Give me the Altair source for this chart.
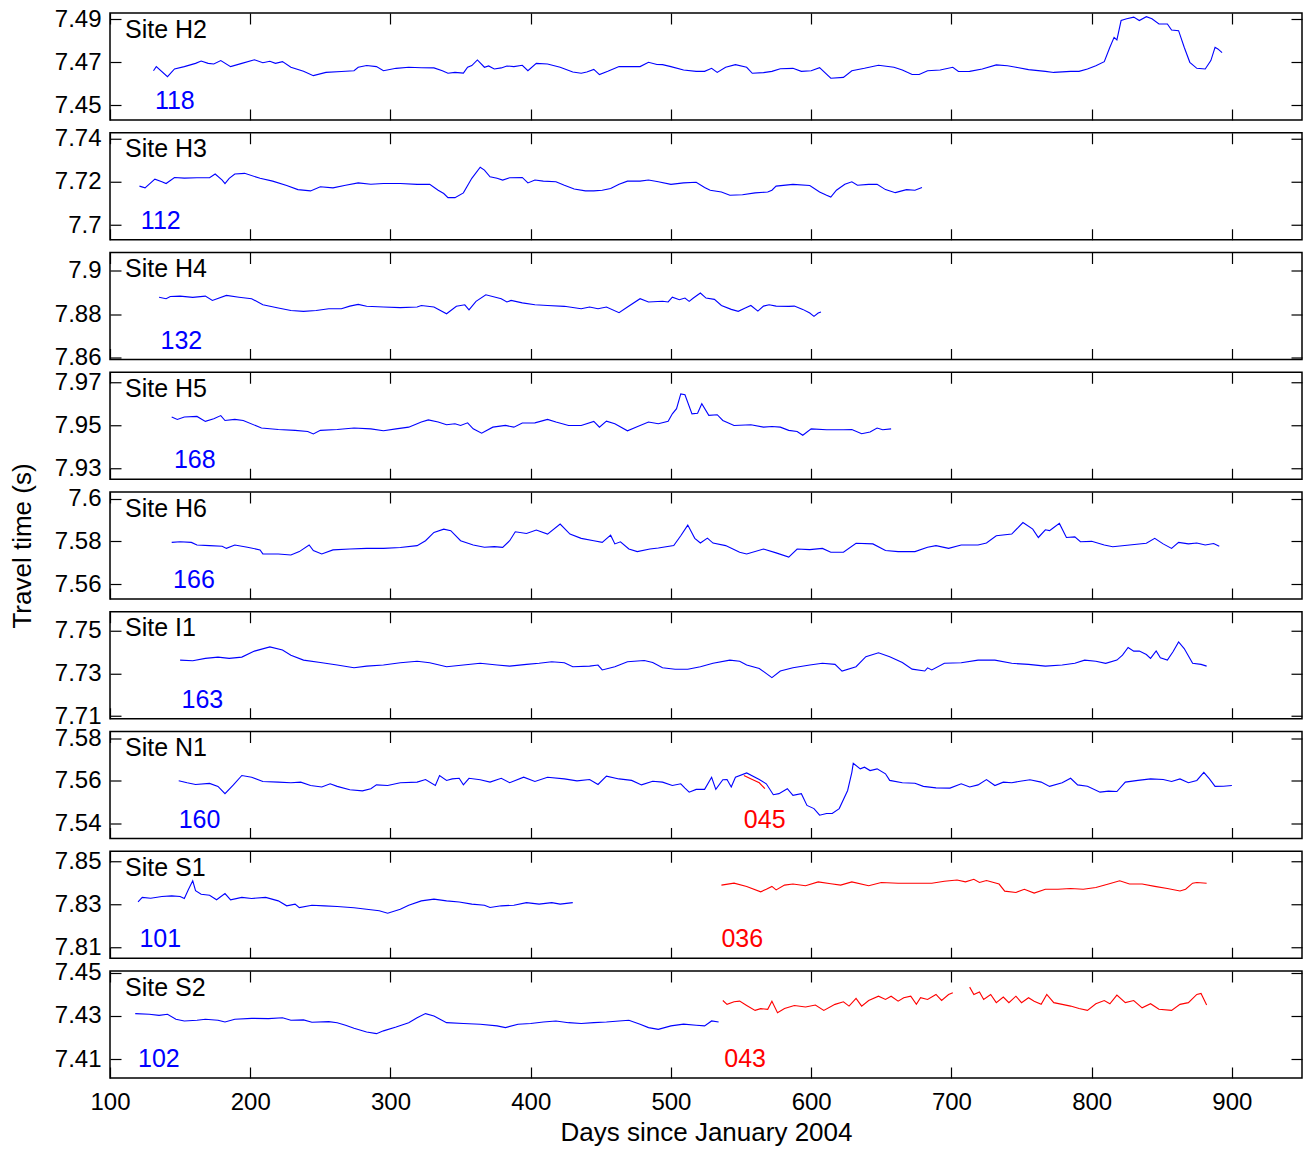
import altair as alt
import pandas as pd

FONT = "Liberation Sans"
BLUE = "#0000ff"
RED = "#ff0000"

X_DOMAIN = [100, 950]
X_TICKS = [100, 200, 300, 400, 500, 600, 700, 800, 900]

SITES = ["H2", "H3", "H4", "H5", "H6", "I1", "N1", "S1", "S2"]

Y_DOMAINS = {
    "H2": [7.4432, 7.4929], "H3": [7.6933, 7.7426], "H4": [7.8593, 7.9084],
    "H5": [7.9249, 7.9748], "H6": [7.5530, 7.6031], "I1": [7.7088, 7.7588],
    "N1": [7.5330, 7.5831], "S1": [7.8051, 7.8547], "S2": [7.4012, 7.4509],
}
Y_TICKS = {
    "H2": [7.45, 7.47, 7.49], "H3": [7.70, 7.72, 7.74], "H4": [7.86, 7.88, 7.90],
    "H5": [7.93, 7.95, 7.97], "H6": [7.56, 7.58, 7.60], "I1": [7.71, 7.73, 7.75],
    "N1": [7.54, 7.56, 7.58], "S1": [7.81, 7.83, 7.85], "S2": [7.41, 7.43, 7.45],
}

# (label text, day where the label starts, colour)
COUNT_LABELS = {
    "H2": [("118", 132, "blue")],
    "H3": [("112", 122, "blue")],
    "H4": [("132", 136, "blue")],
    "H5": [("168", 145.6, "blue")],
    "H6": [("166", 145, "blue")],
    "I1": [("163", 151, "blue")],
    "N1": [("160", 149, "blue"), ("045", 552, "red")],
    "S1": [("101", 121, "blue"), ("036", 536, "red")],
    "S2": [("102", 120, "blue"), ("043", 538, "red")],
}

H2_BLUE = [(131,7.4661),(133,7.4680),(141,7.4633),(146,7.4669),(153,7.4680),(161,7.4695),(165,7.4706),(170,7.4695),(174,7.4692),(179,7.4708),(186,7.4680),(194,7.4695),(203,7.4712),(209,7.4698),(214,7.4705),(218,7.4695),(223,7.4703),(229,7.4677),(238,7.4658),(245,7.4638),(254,7.4653),(265,7.4657),(274,7.4661),(277,7.4677),(283,7.4685),(290,7.4680),(295,7.4661),(304,7.4672),(313,7.4677),(322,7.4675),(331,7.4674),(337,7.4661),(341,7.4649),(346,7.4653),(352,7.4650),(355,7.4677),(358,7.4685),(362,7.4711),(367,7.4677),(370,7.4683),(374,7.4669),(379,7.4674),(383,7.4683),(388,7.4680),(394,7.4686),(398,7.4661),(404,7.4695),(412,7.4692),(421,7.4677),(430,7.4655),(436,7.4649),(440,7.4655),(445,7.4667),(449,7.4643),(455,7.4658),(463,7.4680),(472,7.4680),(478,7.4680),(484,7.4700),(490,7.4690),(494,7.4689),(500,7.4680),(509,7.4664),(518,7.4658),(524,7.4658),(529,7.4672),(533,7.4653),(539,7.4677),(546,7.4689),(554,7.4677),(558,7.4649),(566,7.4652),(572,7.4658),(578,7.4670),(587,7.4672),(593,7.4658),(600,7.4661),(606,7.4675),(614,7.4626),(623,7.4630),(629,7.4661),(638,7.4672),(648,7.4686),(659,7.4677),(665,7.4664),(672,7.4643),(677,7.4643),(683,7.4661),(692,7.4664),(701,7.4677),(705,7.4657),(713,7.4658),(722,7.4669),(732,7.4688),(740,7.4684),(746,7.4677),(755,7.4666),(767,7.4658),(773,7.4653),(785,7.4658),(791,7.4658),(797,7.4669),(803,7.4684),(809,7.4703),(813,7.4770),(816,7.4816),(818,7.4804),(821,7.4894),(825,7.4902),(830,7.4910),(834,7.4894),(839,7.4912),(843,7.4902),(848,7.4878),(854,7.4878),(857,7.4850),(862,7.4847),(866,7.4770),(870,7.4700),(875,7.4672),(881,7.4669),(885,7.4708),(888,7.4770),(890,7.4762),(893,7.4745)]

H3_BLUE = [(121,7.7180),(125,7.7172),(132,7.7212),(137,7.7200),(140,7.7192),(146,7.7220),(153,7.7217),(162,7.7219),(171,7.7219),(175,7.7236),(180,7.7208),(182,7.7192),(185,7.7216),(189,7.7236),(196,7.7239),(207,7.7216),(216,7.7203),(226,7.7183),(234,7.7164),(243,7.7158),(250,7.7177),(259,7.7172),(268,7.7184),(277,7.7195),(286,7.7189),(295,7.7192),(307,7.7192),(319,7.7188),(328,7.7188),(334,7.7161),(338,7.7146),(341,7.7127),(346,7.7127),(352,7.7149),(358,7.7216),(364,7.7267),(367,7.7254),(371,7.7223),(376,7.7216),(380,7.7208),(385,7.7219),(394,7.7220),(398,7.7195),(403,7.7208),(409,7.7203),(418,7.7200),(424,7.7184),(431,7.7167),(439,7.7158),(445,7.7158),(451,7.7161),(457,7.7169),(463,7.7189),(469,7.7203),(478,7.7203),(484,7.7208),(491,7.7200),(500,7.7188),(509,7.7195),(518,7.7198),(524,7.7174),(528,7.7161),(536,7.7153),(542,7.7138),(551,7.7140),(560,7.7149),(569,7.7153),(572,7.7161),(575,7.7180),(587,7.7188),(599,7.7183),(606,7.7153),(611,7.7138),(614,7.7130),(618,7.7161),(624,7.7189),(629,7.7200),(633,7.7184),(641,7.7188),(647,7.7188),(653,7.7164),(660,7.7150),(668,7.7164),(674,7.7161),(679,7.7174)]

H4_BLUE = [(135,7.8879),(140,7.8872),(143,7.8882),(150,7.8884),(159,7.8878),(168,7.8884),(173,7.8864),(183,7.8887),(192,7.8879),(201,7.8872),(209,7.8844),(220,7.8829),(229,7.8818),(238,7.8814),(247,7.8818),(256,7.8826),(265,7.8826),(271,7.8838),(277,7.8846),(283,7.8837),(295,7.8834),(307,7.8831),(319,7.8834),(322,7.8841),(331,7.8834),(340,7.8803),(347,7.8837),(353,7.8844),(356,7.8821),(361,7.8860),(368,7.8890),(379,7.8872),(383,7.8857),(386,7.8864),(394,7.8853),(403,7.8844),(412,7.8841),(424,7.8837),(436,7.8826),(442,7.8834),(448,7.8826),(454,7.8834),(463,7.8808),(469,7.8834),(478,7.8872),(484,7.8857),(494,7.8860),(498,7.8857),(501,7.8879),(506,7.8867),(510,7.8875),(513,7.8860),(516,7.8875),(521,7.8898),(525,7.8875),(531,7.8869),(536,7.8841),(543,7.8823),(548,7.8814),(553,7.8829),(557,7.8841),(562,7.8815),(566,7.8838),(570,7.8844),(575,7.8838),(584,7.8837),(588,7.8838),(594,7.8823),(599,7.8806),(602,7.8791),(605,7.8806),(607,7.8811)]

H5_BLUE = [(144,7.9539),(148,7.9528),(153,7.9539),(162,7.9542),(168,7.9519),(174,7.9531),(179,7.9546),(182,7.9523),(189,7.9528),(195,7.9523),(208,7.9488),(220,7.9481),(232,7.9477),(241,7.9472),(245,7.9460),(250,7.9477),(262,7.9481),(274,7.9488),(286,7.9484),(295,7.9475),(304,7.9484),(313,7.9492),(322,7.9516),(327,7.9526),(334,7.9516),(340,7.9503),(346,7.9508),(350,7.9500),(355,7.9512),(359,7.9484),(365,7.9464),(373,7.9492),(382,7.9500),(388,7.9492),(394,7.9511),(403,7.9512),(412,7.9528),(418,7.9516),(427,7.9500),(436,7.9500),(445,7.9519),(449,7.9492),(454,7.9520),(460,7.9508),(469,7.9475),(475,7.9492),(484,7.9516),(491,7.9508),(498,7.9519),(501,7.9554),(504,7.9578),(507,7.9647),(510,7.9643),(515,7.9554),(519,7.9557),(522,7.9601),(527,7.9547),(533,7.9550),(537,7.9523),(545,7.9500),(557,7.9503),(566,7.9492),(572,7.9495),(578,7.9492),(584,7.9477),(590,7.9472),(594,7.9454),(600,7.9484),(611,7.9480),(623,7.9480),(629,7.9481),(636,7.9461),(642,7.9469),(647,7.9488),(651,7.9480),(657,7.9484)]

H6_BLUE = [(144,7.5795),(150,7.5798),(158,7.5795),(162,7.5783),(171,7.5780),(180,7.5777),(183,7.5767),(189,7.5783),(198,7.5772),(207,7.5760),(209,7.5741),(220,7.5741),(229,7.5736),(235,7.5752),(242,7.5783),(245,7.5757),(251,7.5741),(259,7.5760),(271,7.5764),(283,7.5767),(295,7.5767),(307,7.5771),(319,7.5780),(325,7.5803),(331,7.5842),(338,7.5857),(343,7.5850),(350,7.5803),(359,7.5783),(367,7.5772),(374,7.5775),(380,7.5772),(385,7.5803),(389,7.5845),(397,7.5837),(404,7.5853),(412,7.5834),(421,7.5881),(428,7.5834),(436,7.5814),(445,7.5803),(451,7.5795),(457,7.5829),(460,7.5788),(464,7.5798),(470,7.5764),(476,7.5752),(485,7.5764),(491,7.5769),(502,7.5780),(507,7.5826),(512,7.5876),(517,7.5814),(521,7.5792),(526,7.5815),(530,7.5792),(539,7.5780),(549,7.5749),(554,7.5741),(566,7.5764),(575,7.5746),(584,7.5726),(590,7.5764),(599,7.5761),(608,7.5767),(614,7.5749),(623,7.5749),(632,7.5791),(644,7.5788),(653,7.5757),(662,7.5752),(674,7.5752),(683,7.5772),(689,7.5780),(698,7.5767),(707,7.5783),(719,7.5783),(725,7.5792),(732,7.5826),(743,7.5834),(751,7.5888),(758,7.5857),(762,7.5818),(767,7.5854),(770,7.5850),(773,7.5865),(777,7.5884),(782,7.5818),(788,7.5821),(792,7.5798),(800,7.5800),(809,7.5783),(815,7.5775),(827,7.5783),(839,7.5791),(845,7.5814),(851,7.5788),(857,7.5767),(862,7.5795),(869,7.5788),(875,7.5792),(881,7.5783),(887,7.5790),(891,7.5777)]

I1_BLUE = [(150,7.7362),(159,7.7359),(168,7.7370),(177,7.7376),(185,7.7370),(194,7.7376),(203,7.7404),(214,7.7424),(223,7.7409),(229,7.7385),(238,7.7362),(250,7.7351),(262,7.7339),(274,7.7326),(283,7.7334),(295,7.7339),(307,7.7350),(319,7.7357),(328,7.7350),(340,7.7331),(352,7.7339),(364,7.7347),(376,7.7339),(385,7.7334),(397,7.7342),(406,7.7347),(415,7.7354),(424,7.7350),(430,7.7331),(442,7.7334),(448,7.7339),(451,7.7316),(460,7.7331),(469,7.7354),(481,7.7360),(487,7.7351),(494,7.7326),(503,7.7319),(512,7.7319),(521,7.7331),(530,7.7347),(542,7.7362),(549,7.7357),(554,7.7339),(563,7.7323),(572,7.7280),(578,7.7311),(587,7.7326),(599,7.7339),(608,7.7347),(617,7.7342),(622,7.7311),(632,7.7331),(639,7.7378),(648,7.7396),(656,7.7378),(665,7.7351),(672,7.7320),(681,7.7311),(683,7.7326),(686,7.7316),(695,7.7347),(707,7.7350),(719,7.7362),(731,7.7362),(743,7.7347),(755,7.7342),(767,7.7334),(779,7.7339),(788,7.7347),(795,7.7362),(803,7.7357),(810,7.7347),(818,7.7362),(822,7.7385),(826,7.7421),(830,7.7404),(834,7.7404),(839,7.7388),(842,7.7370),(846,7.7405),(849,7.7373),(854,7.7362),(858,7.7401),(862,7.7447),(866,7.7416),(872,7.7347),(878,7.7342),(882,7.7334)]

N1_BLUE = [(149,7.5600),(155,7.5591),(161,7.5583),(171,7.5588),(177,7.5574),(182,7.5540),(188,7.5581),(194,7.5625),(201,7.5617),(209,7.5597),(220,7.5594),(229,7.5591),(236,7.5594),(243,7.5578),(251,7.5571),(257,7.5586),(262,7.5574),(271,7.5558),(280,7.5553),(286,7.5563),(290,7.5581),(298,7.5578),(307,7.5591),(319,7.5594),(325,7.5606),(332,7.5578),(335,7.5625),(340,7.5602),(344,7.5609),(349,7.5612),(352,7.5581),(356,7.5612),(364,7.5605),(371,7.5594),(379,7.5612),(385,7.5591),(395,7.5617),(403,7.5597),(412,7.5617),(424,7.5609),(433,7.5600),(442,7.5606),(448,7.5583),(454,7.5622),(463,7.5609),(472,7.5602),(479,7.5581),(487,7.5598),(494,7.5594),(501,7.5578),(507,7.5586),(510,7.5566),(513,7.5547),(518,7.5560),(524,7.5560),(529,7.5617),(532,7.5560),(537,7.5605),(540,7.5606),(543,7.5571),(546,7.5617),(554,7.5637),(563,7.5606),(568,7.5586),(573,7.5535),(577,7.5540),(583,7.5563),(587,7.5532),(593,7.5540),(597,7.5485),(602,7.5470),(606,7.5439),(611,7.5447),(615,7.5447),(620,7.5470),(626,7.5555),(629,7.5640),(630,7.5682),(635,7.5656),(638,7.5664),(642,7.5648),(647,7.5656),(653,7.5633),(656,7.5602),(665,7.5591),(674,7.5589),(680,7.5574),(689,7.5567),(699,7.5566),(707,7.5586),(713,7.5571),(719,7.5581),(725,7.5606),(731,7.5578),(737,7.5594),(743,7.5591),(749,7.5598),(756,7.5605),(764,7.5594),(770,7.5574),(779,7.5591),(785,7.5612),(790,7.5581),(797,7.5575),(806,7.5547),(812,7.5552),(818,7.5550),(824,7.5594),(833,7.5602),(842,7.5609),(851,7.5606),(857,7.5597),(863,7.5609),(869,7.5591),(875,7.5602),(880,7.5640),(884,7.5609),(888,7.5574),(894,7.5575),(900,7.5578)]
N1_RED = [(552,7.5625),(558,7.5606),(563,7.5591),(567,7.5563)]

S1_BLUE = [(120,7.8312),(123,7.8333),(129,7.8329),(137,7.8337),(144,7.8340),(150,7.8337),(153,7.8328),(156,7.8371),(159,7.8410),(161,7.8364),(165,7.8348),(171,7.8343),(176,7.8322),(182,7.8351),(186,7.8322),(194,7.8333),(201,7.8328),(211,7.8333),(220,7.8317),(226,7.8294),(232,7.8302),(235,7.8286),(244,7.8297),(253,7.8294),(262,7.8291),(274,7.8285),(283,7.8278),(292,7.8271),(298,7.8260),(307,7.8278),(313,7.8297),(322,7.8317),(331,7.8325),(340,7.8317),(349,7.8312),(358,7.8302),(367,7.8297),(371,7.8286),(379,7.8294),(388,7.8297),(397,7.8309),(406,7.8302),(415,7.8309),(421,7.8302),(430,7.8309)]
S1_RED = [(536,7.8390),(545,7.8399),(554,7.8384),(564,7.8359),(568,7.8371),(572,7.8384),(575,7.8368),(581,7.8390),(587,7.8395),(596,7.8387),(605,7.8405),(614,7.8396),(621,7.8390),(629,7.8405),(641,7.8387),(650,7.8402),(662,7.8399),(674,7.8399),(686,7.8399),(695,7.8408),(704,7.8414),(710,7.8405),(716,7.8417),(720,7.8402),(725,7.8411),(734,7.8395),(738,7.8362),(746,7.8356),(752,7.8371),(759,7.8353),(767,7.8371),(776,7.8371),(785,7.8374),(794,7.8371),(803,7.8379),(812,7.8395),(820,7.8410),(827,7.8395),(836,7.8395),(845,7.8384),(854,7.8374),(863,7.8363),(867,7.8371),(872,7.8399),(875,7.8402),(882,7.8399)]

S2_BLUE = [(118,7.4311),(128,7.4308),(135,7.4303),(141,7.4308),(147,7.4285),(153,7.4277),(162,7.4280),(168,7.4285),(177,7.4280),(182,7.4272),(189,7.4285),(201,7.4289),(213,7.4288),(223,7.4292),(229,7.4280),(238,7.4282),(244,7.4271),(256,7.4274),(262,7.4269),(268,7.4257),(274,7.4243),(283,7.4226),(290,7.4218),(295,7.4231),(304,7.4249),(313,7.4269),(319,7.4292),(325,7.4311),(331,7.4300),(340,7.4269),(352,7.4265),(364,7.4262),(376,7.4254),(382,7.4246),(391,7.4262),(400,7.4265),(409,7.4272),(418,7.4277),(427,7.4269),(436,7.4265),(445,7.4269),(454,7.4272),(463,7.4277),(470,7.4280),(478,7.4262),(484,7.4246),(491,7.4238),(500,7.4254),(509,7.4262),(518,7.4257),(524,7.4254),(529,7.4277),(534,7.4272)]
S2_RED_A = [(537,7.4372),(540,7.4354),(545,7.4366),(549,7.4369),(554,7.4349),(560,7.4326),(564,7.4334),(569,7.4331),(572,7.4369),(576,7.4315),(581,7.4335),(588,7.4349),(596,7.4342),(603,7.4351),(609,7.4326),(617,7.4354),(623,7.4366),(627,7.4346),(632,7.4382),(636,7.4346),(641,7.4372),(648,7.4392),(653,7.4377),(657,7.4392),(662,7.4369),(666,7.4385),(671,7.4392),(675,7.4354),(678,7.4385),(683,7.4377),(689,7.4400),(693,7.4372),(698,7.4400),(701,7.4408)]
S2_RED_B = [(713,7.4434),(716,7.4400),(720,7.4412),(723,7.4377),(728,7.4400),(732,7.4362),(737,7.4388),(741,7.4362),(746,7.4392),(750,7.4362),(755,7.4385),(759,7.4369),(764,7.4354),(768,7.4400),(773,7.4362),(779,7.4354),(785,7.4346),(791,7.4335),(797,7.4326),(803,7.4357),(809,7.4372),(813,7.4357),(818,7.4397),(824,7.4362),(830,7.4372),(836,7.4338),(842,7.4357),(848,7.4331),(857,7.4326),(863,7.4354),(869,7.4362),(875,7.4400),(878,7.4405),(882,7.4351)]

SERIES = {
    "H2": [("blue", H2_BLUE)],
    "H3": [("blue", H3_BLUE)],
    "H4": [("blue", H4_BLUE)],
    "H5": [("blue", H5_BLUE)],
    "H6": [("blue", H6_BLUE)],
    "I1": [("blue", I1_BLUE)],
    "N1": [("blue", N1_BLUE), ("red", N1_RED)],
    "S1": [("blue", S1_BLUE), ("red", S1_RED)],
    "S2": [("blue", S2_BLUE), ("red", S2_RED_A), ("red", S2_RED_B)],
}

COLOR_SCALE = alt.Scale(domain=["blue", "red"], range=[BLUE, RED])
TICK = 11


def panel(site):
    rows = []
    for seg, (col, pts) in enumerate(SERIES[site]):
        for d, v in pts:
            rows.append({"day": d, "value": v, "color": col, "seg": seg})
    df = pd.DataFrame(rows)
    last = site == "S2"
    xs = alt.Scale(domain=X_DOMAIN, nice=False, zero=False)
    ys = alt.Scale(domain=Y_DOMAINS[site], nice=False, zero=False)

    x_axis_kw = dict(orient="bottom", values=X_TICKS, offset=-TICK, tickSize=TICK,
                     domain=False, grid=False, labels=last, labelFlush=False,
                     labelPadding=12, labelFontSize=24, titleFontSize=26,
                     titlePadding=5, format="d")
    y_axis_kw = dict(orient="left", values=Y_TICKS[site], offset=-TICK, tickSize=TICK,
                     domain=False, grid=False, labelFlush=False, labelPadding=9,
                     labelFontSize=24, format=".2~f", titleFontSize=26,
                     titlePadding=19)
    x_title = "Days since January 2004" if last else None
    y_title = "Travel time (s)" if site == "H6" else None

    line = alt.Chart(df).mark_line(strokeWidth=1.1).encode(
        x=alt.X("day:Q", scale=xs, axis=alt.Axis(**x_axis_kw), title=x_title),
        y=alt.Y("value:Q", scale=ys, axis=alt.Axis(**y_axis_kw), title=y_title),
        color=alt.Color("color:N", scale=COLOR_SCALE, legend=None),
        detail="seg:N",
    )

    frame = alt.Chart(df).mark_line(strokeOpacity=0).encode(
        x=alt.X("day:Q", scale=xs, title=None,
                axis=alt.Axis(orient="top", values=X_TICKS, offset=-TICK, tickSize=TICK,
                              labels=False, domain=False, grid=False)),
        y=alt.Y("value:Q", scale=ys, title=None,
                axis=alt.Axis(orient="right", values=Y_TICKS[site], offset=-TICK,
                              tickSize=TICK, labels=False, domain=False, grid=False)),
        detail="seg:N",
    )

    site_df = pd.DataFrame({"label": [f"Site {site}"]})
    site_text = alt.Chart(site_df).mark_text(
        align="left", baseline="alphabetic", font=FONT, fontSize=25, color="black"
    ).encode(x=alt.value(15), y=alt.value(24.5), text="label:N")

    labs = COUNT_LABELS[site]
    lab_df = pd.DataFrame({"label": [l[0] for l in labs], "day": [l[1] for l in labs],
                           "color": [l[2] for l in labs]})
    lab_text = alt.Chart(lab_df).mark_text(
        align="left", baseline="alphabetic", font=FONT, fontSize=25
    ).encode(
        x=alt.X("day:Q", scale=xs, axis=None),
        y=alt.value(96),
        text="label:N",
        color=alt.Color("color:N", scale=COLOR_SCALE, legend=None),
    )

    return alt.layer(line, frame, site_text, lab_text).resolve_axis(
        x="independent", y="independent"
    ).properties(width=1192, height=107)


chart = alt.vconcat(*[panel(s) for s in SITES], spacing=12.75, bounds="flush").properties(
    padding={"left": 8, "top": 6, "right": 5, "bottom": 5},
    background="white",
).configure_view(
    stroke="black", strokeWidth=1.5
).configure_axis(
    labelFont=FONT, titleFont=FONT, labelColor="black", titleColor="black",
    tickColor="black", tickWidth=1.2, titleFontWeight="normal",
)

chart.save("out.html", embed_options={"renderer": "svg", "actions": False})
